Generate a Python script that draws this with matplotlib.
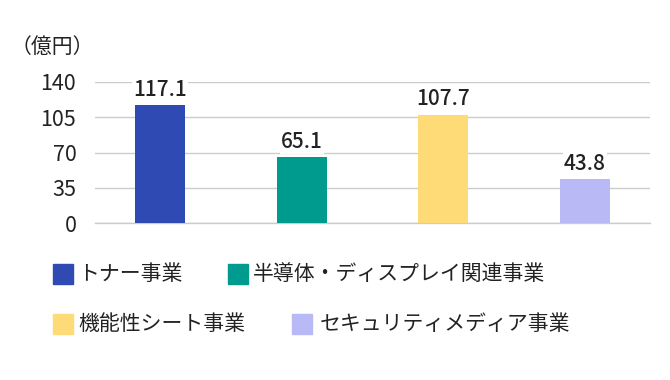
import matplotlib
matplotlib.use('Agg')
import matplotlib.pyplot as plt
from matplotlib.patches import Rectangle

plt.rcParams['font.family'] = ['Noto Sans CJK JP', 'DejaVu Sans']

categories = ['トナー事業', '半導体・ディスプレイ関連事業', '機能性シート事業', 'セキュリティメディア事業']
values = [117.1, 65.1, 107.7, 43.8]
colors = ['#304ab3', '#009b8f', '#ffdb78', '#b9b9f5']
yticks = [0, 35, 70, 105, 140]

W, H = 670, 380
txt = '#222222'
fig = plt.figure(figsize=(W / 100, H / 100), dpi=100)
ax = fig.add_axes([95 / W, 1 - 223 / H, 555 / W, 141 / H])

x = range(len(values))
bars = ax.bar(x, values, width=0.353, color=colors, zorder=3)
for b, v in zip(bars, values):
    ax.annotate(f'{v:.1f}', (b.get_x() + b.get_width() / 2, v), xytext=(0, 3),
                textcoords='offset points', ha='center', va='bottom',
                fontsize=15, fontweight='medium', color=txt, zorder=4,
                bbox=dict(boxstyle='square,pad=0.05', fc='white', ec='none'))

ax.set_ylim(0, 140)
ax.set_xlim(-0.46, 3.46)
ax.set_yticks(yticks)
ax.set_xticks([])
ax.yaxis.grid(True, color='#cccccc', linewidth=1, zorder=0)
ax.axhline(0, color='#cccccc', linewidth=1, zorder=2, clip_on=False)
for s in ax.spines.values():
    s.set_visible(False)
ax.tick_params(axis='y', length=0, pad=13.5, labelsize=15.5, labelcolor=txt)

fig.text(11 / W, 1 - 47 / H, '（億円）', fontsize=15, color=txt, va='center', ha='left')

# legend, two flowing rows
rows = [[(0, 53, 78), (1, 228, 253)], [(2, 53, 78), (3, 292, 320)]]
row_y = [274, 324]
sq = 20
for row, yc in zip(rows, row_y):
    for idx, xs, xt in row:
        fig.patches.append(Rectangle((xs / W, 1 - (yc + sq / 2) / H), sq / W, sq / H,
                                     transform=fig.transFigure, color=colors[idx]))
        fig.text(xt / W, 1 - yc / H, categories[idx], fontsize=15,
                 color=txt, va='center', ha='left')

fig.savefig('out.png', dpi=100)
